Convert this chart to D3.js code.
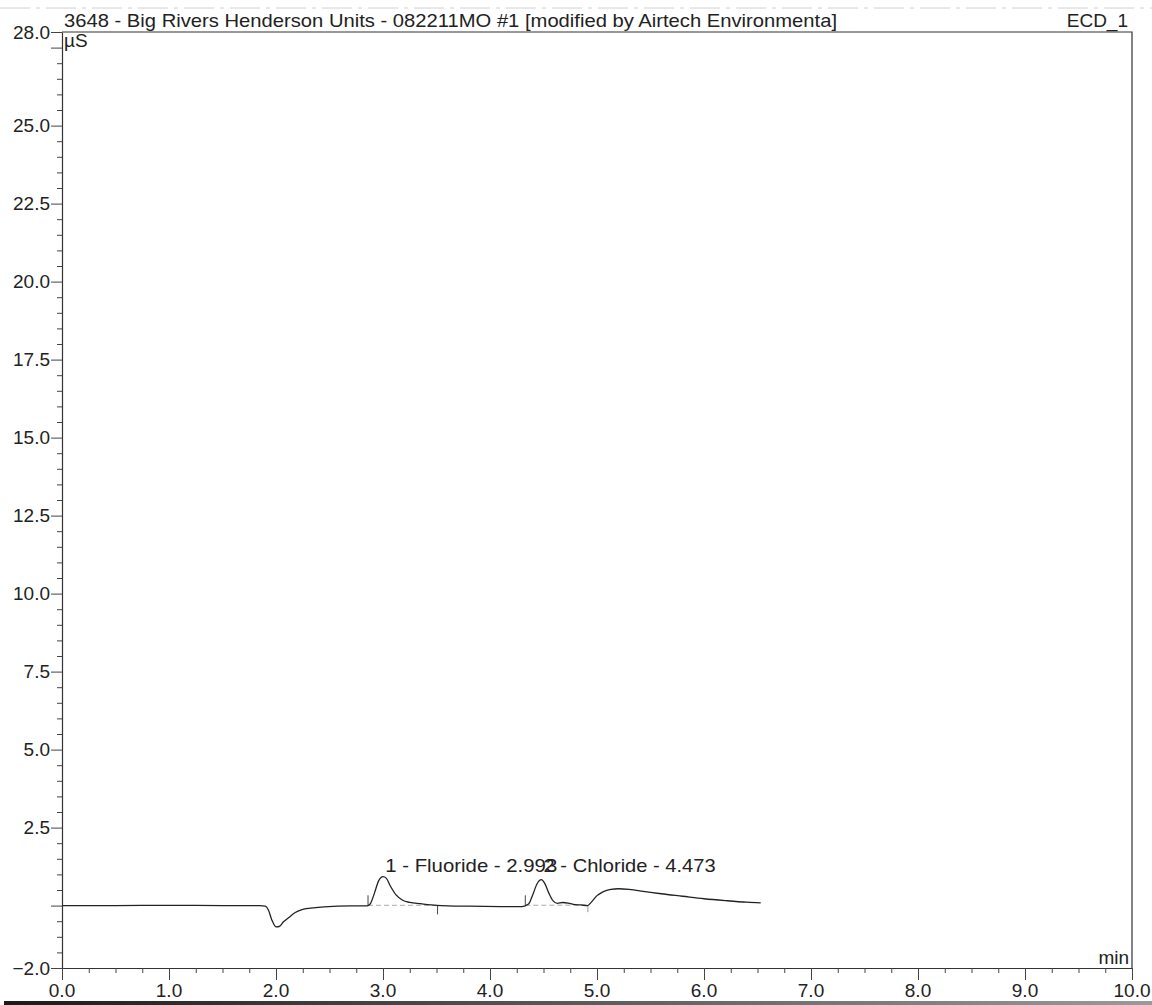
<!DOCTYPE html>
<meta charset="utf-8">
<style>
  body { margin: 0; background: #fff; }
  svg { display: block; font-family: "Liberation Sans", Arial, sans-serif; }
  .tick-label { font-size: 19px; fill: #222; }
  .trace { fill: none; stroke: #222; stroke-width: 1.3px; }
</style>
<body>
<svg width="1152" height="1005"></svg>
</body>
<script src="https://d3js.org/d3.v7.min.js"></script>
<script>
  // chromatogram trace (min, µS)
  var times = [0, 0.5, 1.0, 1.5, 1.85, 1.9, 1.93, 1.96, 2.0, 2.03, 2.07, 2.12, 2.18, 2.25, 2.35, 2.45,
    2.7, 2.85, 2.88, 2.92, 2.96, 3.0, 3.03, 3.07, 3.12, 3.18, 3.25, 3.35, 3.5, 3.8, 4.1, 4.3,
    4.36, 4.40, 4.44, 4.48, 4.51, 4.55, 4.59, 4.63, 4.68, 4.73, 4.78, 4.85, 4.91, 4.95, 5.0,
    5.05, 5.13, 5.2, 5.3, 5.45, 5.6, 5.8, 6.0, 6.2, 6.4, 6.53];
  var signal = [0, 0, 0.01, 0, 0, -0.02, -0.15, -0.45, -0.68, -0.67, -0.52, -0.38, -0.22, -0.12, -0.07, -0.04,
    -0.01, -0.01, 0.05, 0.4, 0.8, 0.93, 0.88, 0.62, 0.35, 0.18, 0.1, 0.06, 0.01, -0.02, -0.03, -0.03,
    0.05, 0.35, 0.7, 0.83, 0.72, 0.4, 0.15, 0.07, 0.1, 0.08, 0.04, 0.02, 0.0, 0.12, 0.32,
    0.43, 0.52, 0.54, 0.52, 0.45, 0.38, 0.3, 0.22, 0.16, 0.11, 0.09];

  var peakNames = ["1 - Fluoride - 2.993", "2 - Chloride - 4.473"];
  var peakTimes = [2.993, 4.473];
  var peakStart = [2.86, 4.33];
  var peakEnd = [3.51, 4.915];

  var yMajor = [28.0, 25.0, 22.5, 20.0, 17.5, 15.0, 12.5, 10.0, 7.5, 5.0, 2.5, -2.0];
  var xMajor = [0, 1, 2, 3, 4, 5, 6, 7, 8, 9, 10];

  var titleText = "3648 - Big Rivers Henderson Units - 082211MO #1 [modified by Airtech Environmenta]";
  var channel = "ECD_1";

  var svg = d3.select("svg");
  var pl = 62, pr = 1132, pt = 32, pb = 968;

  var x = d3.scaleLinear().domain([0, 10]).range([pl, pr]);
  var y = d3.scaleLinear().domain([-2, 28]).range([pb, pt]);

  // scan artifacts at the page edges
  svg.append("line").attr("x1", 0).attr("x2", 1152).attr("y1", 8).attr("y2", 8)
    .attr("stroke", "#d0d0d0").attr("stroke-dasharray", "30,6,4,6");
  var grad = svg.append("defs").append("linearGradient").attr("id", "edge");
  grad.append("stop").attr("offset", "0%").attr("stop-color", "#1a1a1a");
  grad.append("stop").attr("offset", "100%").attr("stop-color", "#9a9a9a");
  svg.append("rect").attr("x", 4).attr("y", 1001).attr("width", 1148).attr("height", 4)
    .attr("fill", "url(#edge)");

  // frame
  svg.append("path")
    .attr("d", "M" + pl + "," + pt + "H" + pr + "V" + pb)
    .attr("fill", "none").attr("stroke", "#333").attr("stroke-width", 1.2);

  // y axis
  var yAxis = d3.axisLeft(y)
    .tickValues(d3.range(-2, 28.01, 0.5).map(function(d) { return +d.toFixed(1); }))
    .tickSizeInner(5).tickSizeOuter(0).tickFormat("");
  svg.append("g").attr("transform", "translate(" + pl + ",0)").call(yAxis)
    .call(function(g) {
      g.select(".domain").attr("stroke", "#333").attr("stroke-width", 1.2);
      g.selectAll(".tick line").attr("stroke", "#444")
        .attr("x2", function(d) { return (Math.abs(d % 2.5) < 1e-6 || d === 28 || d === -2) ? -11 : -5; });
    });
  svg.append("g").selectAll("text").data(yMajor).enter().append("text")
    .attr("class", "tick-label")
    .attr("x", pl - 12).attr("y", function(d) { return y(d); })
    .attr("dy", "0.36em").attr("text-anchor", "end")
    .text(function(d) { return d3.format(".1f")(d); });

  // x axis
  var xAxis = d3.axisBottom(x)
    .tickValues(d3.range(0, 10.01, 0.25))
    .tickSizeInner(5).tickSizeOuter(0).tickFormat("");
  svg.append("g").attr("transform", "translate(0," + pb + ")").call(xAxis)
    .call(function(g) {
      g.select(".domain").attr("stroke", "#333").attr("stroke-width", 1.2);
      g.selectAll(".tick line").attr("stroke", "#444")
        .attr("y2", function(d) { return Math.abs(d % 1) < 1e-6 ? 12 : 5; });
    });
  svg.append("g").selectAll("text").data(xMajor).enter().append("text")
    .attr("class", "tick-label")
    .attr("x", function(d) { return x(d); })
    .attr("y", 997).attr("text-anchor", "middle")
    .text(function(d) { return d3.format(".1f")(d); });

  // units
  svg.append("text").attr("class", "tick-label").attr("x", pl + 2).attr("y", 47).text("µS");
  svg.append("text").attr("class", "tick-label").attr("x", pr - 3).attr("y", 964)
    .attr("text-anchor", "end").text("min");

  // title
  svg.append("text").attr("x", pl + 2).attr("y", 27).attr("font-size", 19).attr("fill", "#222")
    .attr("textLength", 773).attr("lengthAdjust", "spacingAndGlyphs").text(titleText);
  svg.append("text").attr("x", pr - 4).attr("y", 27).attr("font-size", 19).attr("fill", "#222")
    .attr("text-anchor", "end").text(channel);

  // integration baselines and delimiters
  var data = times.map(function(t, i) { return [t, signal[i]]; });
  var at = function(t) {
    var i = d3.bisectLeft(times, t);
    if (i <= 0) return signal[0];
    var t0 = times[i - 1], t1 = times[i];
    return signal[i - 1] + (signal[i] - signal[i - 1]) * (t - t0) / (t1 - t0);
  };
  peakStart.forEach(function(s, i) {
    var e = peakEnd[i];
    svg.append("line")
      .attr("x1", x(s)).attr("y1", y(at(s))).attr("x2", x(e)).attr("y2", y(at(e)))
      .attr("stroke", "#aaa").attr("stroke-width", 1).attr("stroke-dasharray", "5,3");
    svg.append("line")
      .attr("x1", x(s)).attr("x2", x(s)).attr("y1", y(at(s))).attr("y2", y(at(s)) - 10)
      .attr("stroke", "#444").attr("stroke-width", 1);
    svg.append("line")
      .attr("x1", x(e)).attr("x2", x(e)).attr("y1", y(at(e))).attr("y2", y(at(e)) + (i === 0 ? 9 : 7))
      .attr("stroke", i === 0 ? "#444" : "#999").attr("stroke-width", 1);
  });

  // trace
  svg.append("path").datum(data).attr("class", "trace")
    .attr("d", d3.line()
      .x(function(d) { return x(d[0]); })
      .y(function(d) { return y(d[1]); })
      .curve(d3.curveMonotoneX));

  // peak labels
  var labelY = y(d3.max(signal)) - 5;
  svg.append("g").selectAll("text").data(peakNames).enter().append("text")
    .attr("x", function(d, i) { return x(peakTimes[i]) + 3; })
    .attr("y", labelY)
    .attr("font-size", 19).attr("fill", "#222")
    .attr("textLength", 172).attr("lengthAdjust", "spacingAndGlyphs")
    .text(function(d) { return d; });
</script>
